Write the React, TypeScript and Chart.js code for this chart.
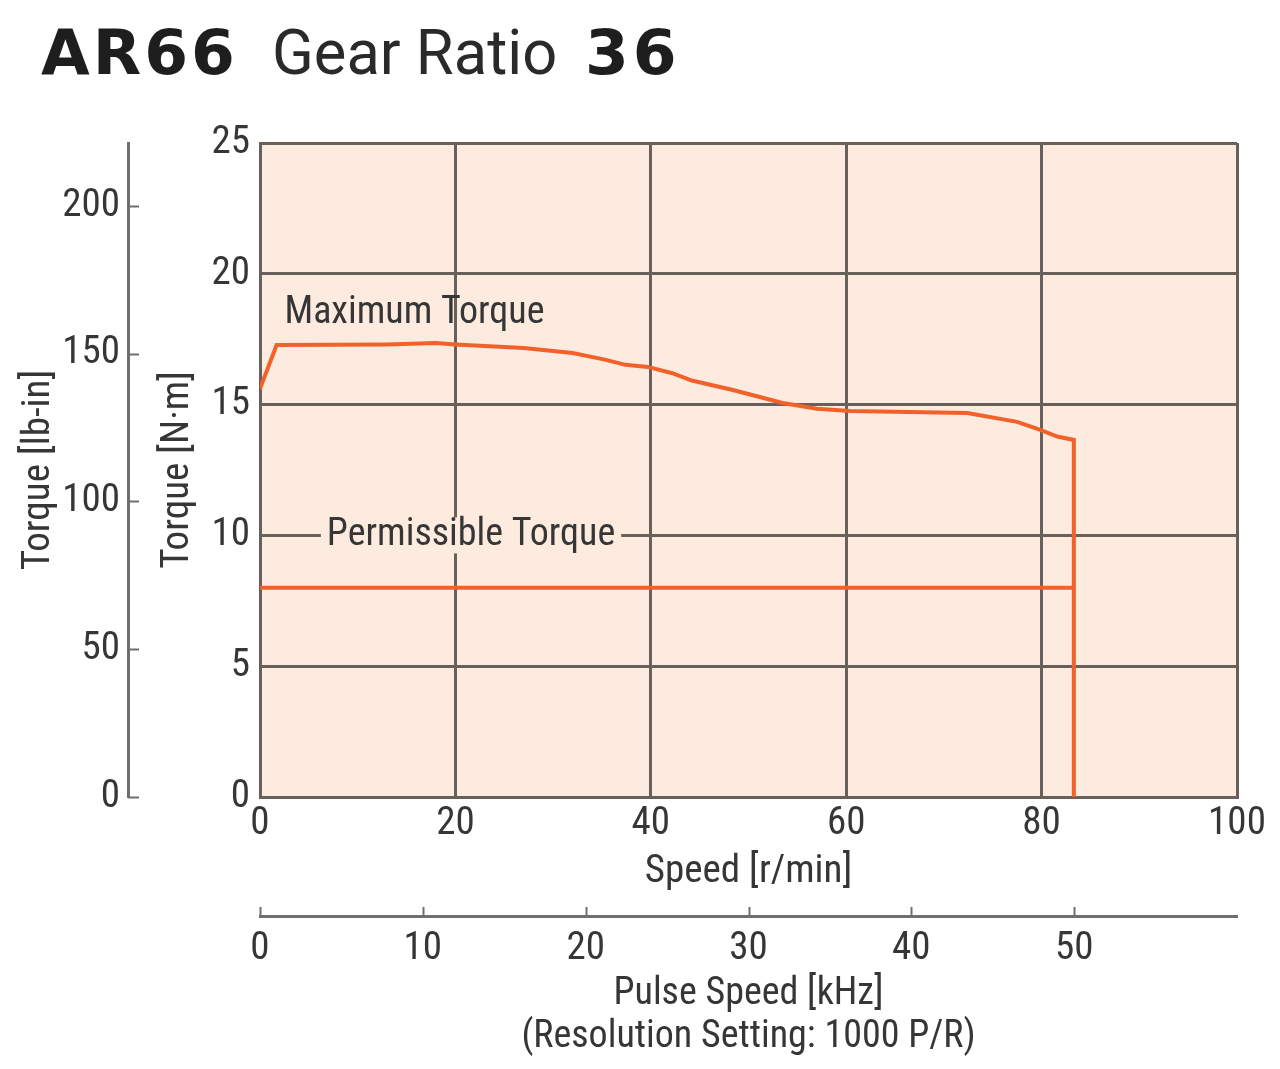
import React, { useEffect, useRef } from "react";
import { Chart, registerables } from "chart.js";

Chart.register(...registerables);

const FONT = "'Roboto Condensed', 'Liberation Sans', sans-serif";
const TEXT = "#363636";
const GRID = "#68605b";
const BG = "#fdebdf";
const LINE = "#f2612a";

// Maximum torque curve (speed r/min -> torque N·m)
const maxTorqueSpeed = [0, 1.7, 13, 18, 20, 27, 32, 35.3, 37.4, 39.7, 42.2, 44.2, 48.4, 53.5, 57, 60.4, 72.4, 77.5, 79.8, 81.6, 83.3, 83.3];
const maxTorqueValue = [15.6, 17.28, 17.3, 17.35, 17.3, 17.16, 16.97, 16.72, 16.52, 16.44, 16.2, 15.92, 15.56, 15.06, 14.84, 14.76, 14.68, 14.34, 14.04, 13.78, 13.65, 0];

// Permissible torque
const permSpeed = [0, 83.3];
const permValue = [8.0, 8.0];

// Axis ticks
const nmTicks = [0, 5, 10, 15, 20, 25];
const lbinTicks = [0, 50, 100, 150, 200];
const speedTicks = [0, 20, 40, 60, 80, 100];
const pulseTicks = [0, 10, 20, 30, 40, 50];

const NM_MAX = 25;
const SPEED_MAX = 100;
const LBIN_PER_NM = 8.8507;
const KHZ_PER_RPM = 0.6;

// Curve labels (data coordinates)
const maxLabel = { text: "Maximum Torque", x: 2.5, y: 18.5 };
const permLabel = { text: "Permissible Torque", x: 21.6, y: 10 };

const FSIZE = 39;
const LSIZE = 38;
const tickFont = { family: FONT, size: FSIZE, lineHeight: 1.2 };

export default function App() {
  const ref = useRef<HTMLCanvasElement | null>(null);

  useEffect(() => {
    if (!ref.current) return;

    const bgPlugin = {
      id: "bg",
      beforeDraw(chart: any) {
        const { ctx, chartArea } = chart;
        ctx.save();
        ctx.fillStyle = BG;
        ctx.fillRect(chartArea.left, chartArea.top, chartArea.right - chartArea.left, chartArea.bottom - chartArea.top);
        ctx.restore();
      },
    };

    const decorPlugin = {
      id: "decor",
      afterDraw(chart: any) {
        const { ctx } = chart;
        const sx = chart.scales.x;
        const sy = chart.scales.y;
        const y2 = chart.scales.y2;
        const x2 = chart.scales.x2;
        ctx.save();
        // lb-in ticks pointing right
        ctx.strokeStyle = "#6f6f6f";
        ctx.lineWidth = 2;
        for (const v of lbinTicks) {
          const py = Math.round(y2.getPixelForValue(v)) + 0.5;
          ctx.beginPath();
          ctx.moveTo(y2.right, py);
          ctx.lineTo(y2.right + 11, py);
          ctx.stroke();
        }
        // pulse ticks pointing up
        for (const v of pulseTicks) {
          const px = Math.round(x2.getPixelForValue(v)) + 0.5;
          ctx.beginPath();
          ctx.moveTo(px, x2.top);
          ctx.lineTo(px, x2.top - 9);
          ctx.stroke();
        }
        // curve labels
        ctx.font = `${LSIZE}px ${FONT}`;
        ctx.textBaseline = "middle";
        ctx.fillStyle = TEXT;
        ctx.textAlign = "left";
        ctx.fillText(maxLabel.text, sx.getPixelForValue(maxLabel.x), sy.getPixelForValue(maxLabel.y));

        const w = ctx.measureText(permLabel.text).width;
        const cx = sx.getPixelForValue(permLabel.x);
        const cy = sy.getPixelForValue(permLabel.y);
        ctx.fillStyle = BG;
        ctx.fillRect(cx - w / 2 - 6, cy - 18, w + 12, 36);
        ctx.fillStyle = TEXT;
        ctx.textAlign = "center";
        ctx.fillText(permLabel.text, cx, cy);
        ctx.restore();
      },
    };

    const chart = new Chart(ref.current, {
      type: "line",
      data: {
        datasets: [
          {
            label: "Maximum Torque",
            data: maxTorqueSpeed.map((s, i) => ({ x: s, y: maxTorqueValue[i] })),
            borderColor: LINE,
            borderWidth: 4,
            pointRadius: 0,
            tension: 0,
            fill: false,
            xAxisID: "x",
            yAxisID: "y",
          },
          {
            label: "Permissible Torque",
            data: permSpeed.map((s, i) => ({ x: s, y: permValue[i] })),
            borderColor: LINE,
            borderWidth: 4,
            pointRadius: 0,
            tension: 0,
            fill: false,
            xAxisID: "x",
            yAxisID: "y",
          },
        ],
      },
      options: {
        responsive: false,
        animation: false,
        layout: { padding: { top: 143, right: 43, left: 0, bottom: 0 } },
        plugins: { legend: { display: false }, tooltip: { enabled: false } },
        scales: {
          x: {
            type: "linear",
            position: "bottom",
            weight: 0,
            min: 0,
            max: SPEED_MAX,
            afterBuildTicks: (s: any) => {
              s.ticks = speedTicks.map((v) => ({ value: v }));
            },
            afterFit: (s: any) => {
              s.height = 119;
            },
            grid: { color: GRID, lineWidth: 3, drawTicks: false },
            border: { display: true, color: GRID, width: 3 },
            ticks: { font: tickFont, color: TEXT, padding: 4, maxRotation: 0, autoSkip: false },
            title: { display: true, text: "Speed [r/min]", font: tickFont, color: TEXT, padding: { top: 0, bottom: 20 } },
          },
          x2: {
            type: "linear",
            position: "bottom",
            weight: 1,
            min: 0,
            max: SPEED_MAX * KHZ_PER_RPM,
            afterBuildTicks: (s: any) => {
              s.ticks = pulseTicks.map((v) => ({ value: v }));
            },
            afterFit: (s: any) => {
              s.height = 153;
            },
            grid: { display: false, drawOnChartArea: false, drawTicks: false },
            border: { display: true, color: "#6f6f6f", width: 3 },
            ticks: { font: tickFont, color: TEXT, padding: 10, maxRotation: 0, autoSkip: false },
            title: {
              display: true,
              text: ["Pulse Speed [kHz]", "(Resolution Setting: 1000 P/R)"],
              font: { family: FONT, size: LSIZE, lineHeight: 1.13 },
              color: TEXT,
              padding: { top: 0, bottom: 10 },
            },
          },
          y: {
            type: "linear",
            position: "left",
            weight: 0,
            min: 0,
            max: NM_MAX,
            afterBuildTicks: (s: any) => {
              s.ticks = nmTicks.map((v) => ({ value: v }));
            },
            afterFit: (s: any) => {
              s.width = 132;
            },
            grid: { color: GRID, lineWidth: 3, drawTicks: false },
            border: { display: true, color: GRID, width: 3 },
            ticks: { font: tickFont, color: TEXT, padding: 10 },
            title: { display: true, text: "Torque [N·m]", font: tickFont, color: TEXT, padding: { top: 27, bottom: 0 } },
          },
          y2: {
            type: "linear",
            position: "left",
            weight: 1,
            min: 0,
            max: NM_MAX * LBIN_PER_NM,
            afterBuildTicks: (s: any) => {
              s.ticks = lbinTicks.map((v) => ({ value: v }));
            },
            afterFit: (s: any) => {
              s.width = 128;
            },
            grid: { display: false, drawOnChartArea: false, drawTicks: false },
            border: { display: true, color: "#6f6f6f", width: 3 },
            ticks: { font: tickFont, color: TEXT, padding: 8 },
            title: { display: true, text: "Torque [lb-in]", font: tickFont, color: TEXT, padding: { top: 16, bottom: 0 } },
          },
        },
      },
      plugins: [bgPlugin, decorPlugin],
    } as any);

    return () => chart.destroy();
  }, []);

  return (
    <div style={{ position: "absolute", left: 0, top: 0, width: 1280, height: 1069, background: "#ffffff", overflow: "hidden" }}>
      <canvas ref={ref} width={1280} height={1069} style={{ display: "block" }} />
      <div style={{ position: "absolute", left: 41, top: 21, font: "bold 63px 'DejaVu Sans', sans-serif", lineHeight: "63px", letterSpacing: "3px", color: "#1e1e1e", whiteSpace: "nowrap" }}>
        AR66
      </div>
      <div
        style={{
          position: "absolute",
          left: 272,
          top: 21,
          font: "63px 'Roboto', sans-serif",
          lineHeight: "63px",
          color: "#2a2a2a",
          whiteSpace: "nowrap",
          transform: "scaleX(0.975)",
          transformOrigin: "left top",
        }}
      >
        Gear Ratio
      </div>
      <div style={{ position: "absolute", left: 585, top: 21, font: "bold 63px 'DejaVu Sans', sans-serif", lineHeight: "63px", letterSpacing: "4px", color: "#1e1e1e", whiteSpace: "nowrap" }}>
        36
      </div>
    </div>
  );
}
